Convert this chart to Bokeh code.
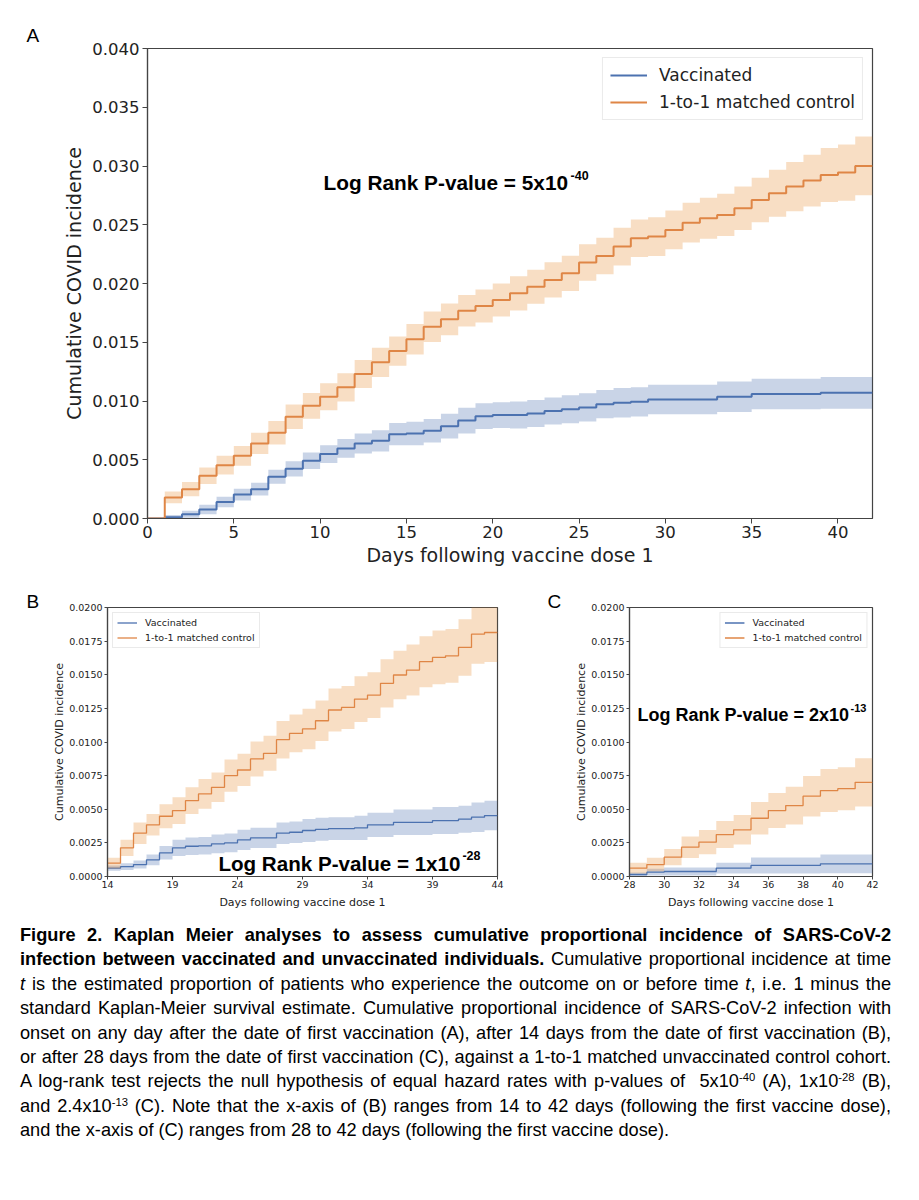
from bokeh.plotting import figure
from bokeh.models import Range1d, FixedTicker, NumeralTickFormatter, Label, Legend, LegendItem, Div
from bokeh.layouts import column, row
from bokeh.embed import file_html
from bokeh.resources import INLINE

BLUE = "#4C72B0"
BLUE_FILL = "#4C72B0"
ORANGE = "#DF8646"
ORANGE_FILL = "#E8923A"
TXT = "#222222"

# ---------------- Panel A: days 0-42 ----------------
a_days = list(range(0, 42))
a_end = 42
a_vacc = [0, 0.0001, 0.00037, 0.00077, 0.00141, 0.00204, 0.0025, 0.00355, 0.00423, 0.00491,
          0.00548, 0.00596, 0.00639, 0.00661, 0.00718, 0.00724, 0.00746, 0.00786, 0.00833, 0.00871,
          0.0088, 0.0088, 0.00894, 0.00914, 0.0093, 0.00945, 0.00973, 0.00985, 0.00993, 0.01013,
          0.01013, 0.01013, 0.01013, 0.01036, 0.01036, 0.01059, 0.01059, 0.01059, 0.01059, 0.0107,
          0.0107, 0.0107]
a_vacc_ci = [0, 0.0002, 0.0003, 0.0004, 0.00045, 0.0005, 0.00055, 0.0006, 0.00065, 0.0007,
             0.00075, 0.0008, 0.00085, 0.0009, 0.00095, 0.001, 0.001, 0.00105, 0.0011, 0.0011,
             0.0011, 0.00115, 0.00115, 0.00115, 0.0012, 0.0012, 0.0012, 0.00125, 0.00125, 0.00125,
             0.00125, 0.00125, 0.00125, 0.0013, 0.0013, 0.0013, 0.0013, 0.0013, 0.0013, 0.00135,
             0.00135, 0.00135]
a_ctrl = [0, 0.00179, 0.0025, 0.00363, 0.00454, 0.00533, 0.00639, 0.00729, 0.00866, 0.00959,
          0.01036, 0.01116, 0.0123, 0.01329, 0.01425, 0.01525, 0.01632, 0.01695, 0.01768, 0.01808,
          0.0186, 0.01916, 0.01973, 0.0203, 0.02087, 0.02178, 0.02234, 0.02314, 0.02385, 0.02399,
          0.02456, 0.02518, 0.02555, 0.02584, 0.02641, 0.02711, 0.02768, 0.02825, 0.02876, 0.02924,
          0.02944, 0.03001]
a_ctrl_ci = [0, 0.0005, 0.0006, 0.0007, 0.0008, 0.00085, 0.0009, 0.001, 0.00105, 0.0011,
             0.00115, 0.0012, 0.0012, 0.00125, 0.00125, 0.0013, 0.0013, 0.00135, 0.00135, 0.0014,
             0.0014, 0.00145, 0.00145, 0.0015, 0.0015, 0.00155, 0.00155, 0.0016, 0.0016, 0.00165,
             0.00165, 0.0017, 0.00175, 0.0018, 0.00185, 0.0019, 0.002, 0.0021, 0.0022, 0.0023,
             0.0024, 0.0025]
a_xticks = [0, 5, 10, 15, 20, 25, 30, 35, 40]
a_yticks = [0, 0.005, 0.01, 0.015, 0.02, 0.025, 0.03, 0.035, 0.04]

# ---------------- Panel B: days 14-44 ----------------
b_days = list(range(14, 44))
b_end = 44
b_vacc = [0.00062, 0.00074, 0.00089, 0.00124, 0.00176, 0.00213, 0.00225, 0.00228, 0.00243, 0.0025,
          0.00272, 0.00287, 0.00287, 0.00322, 0.00329, 0.00342, 0.00351, 0.00356, 0.00356, 0.00361,
          0.00384, 0.00384, 0.00403, 0.00403, 0.00403, 0.00416, 0.00416, 0.00426, 0.00441, 0.00453]
b_vacc_ci = [0.0002, 0.00025, 0.0003, 0.0004, 0.0005, 0.0006, 0.00065, 0.00065, 0.0007, 0.0007,
             0.00075, 0.00075, 0.00075, 0.0008, 0.0008, 0.00085, 0.00085, 0.00085, 0.00085, 0.0009,
             0.0009, 0.0009, 0.00095, 0.00095, 0.00095, 0.001, 0.001, 0.001, 0.0011, 0.0011]
b_ctrl = [0.00099, 0.00213, 0.00322, 0.00384, 0.00448, 0.0049, 0.00564, 0.00614, 0.00663, 0.0075,
          0.00792, 0.00874, 0.00916, 0.01017, 0.01064, 0.01097, 0.01158, 0.01238, 0.01257, 0.01319,
          0.01349, 0.01436, 0.01498, 0.01535, 0.01597, 0.01629, 0.01641, 0.01703, 0.01802, 0.01814]
b_ctrl_ci = [0.0004, 0.0006, 0.0008, 0.0008, 0.0009, 0.001, 0.001, 0.0011, 0.0011, 0.0012,
             0.0012, 0.0013, 0.0013, 0.0014, 0.0014, 0.0015, 0.0015, 0.0016, 0.0016, 0.0017,
             0.0017, 0.0018, 0.0018, 0.0019, 0.0019, 0.002, 0.002, 0.0021, 0.0022, 0.0022]
b_xticks = [14, 19, 24, 29, 34, 39, 44]
bc_yticks = [0, 0.0025, 0.005, 0.0075, 0.01, 0.0125, 0.015, 0.0175, 0.02]

# ---------------- Panel C: days 28-42 ----------------
c_days = list(range(28, 42))
c_end = 42
c_vacc = [0.00015, 0.00032, 0.00037, 0.00037, 0.00037, 0.00062, 0.00062, 0.00082, 0.00082, 0.00082,
          0.00082, 0.00094, 0.00094, 0.00094]
c_vacc_ci = [0.00015, 0.00025, 0.0003, 0.0003, 0.0003, 0.0004, 0.0004, 0.0006, 0.0006, 0.0006,
             0.0006, 0.0007, 0.0007, 0.0007]
c_ctrl = [0.00062, 0.00089, 0.00144, 0.00218, 0.00255, 0.00312, 0.00347, 0.00433, 0.0049, 0.00527,
          0.00597, 0.00639, 0.00653, 0.007]
c_ctrl_ci = [0.0004, 0.0005, 0.0006, 0.0008, 0.0009, 0.001, 0.0011, 0.0012, 0.0013, 0.0014,
             0.0015, 0.0016, 0.0016, 0.0018]
c_xticks = [28, 30, 32, 34, 36, 38, 40, 42]

series_labels = ["Vaccinated", "1-to-1 matched control"]
x_title = "Days following vaccine dose 1"
y_title = "Cumulative COVID incidence"


def km(p, days, end, vals, ci, color, fill, lw):
    x = list(days) + [end]
    y = list(vals) + [vals[-1]]
    h = list(ci) + [ci[-1]]
    lo = [max(0.0, v - e) for v, e in zip(y, h)]
    hi = [v + e for v, e in zip(y, h)]
    p.varea_step(x=x, y1=lo, y2=hi, step_mode="after", fill_color=fill, fill_alpha=0.3)
    return p.step(x=x, y=y, mode="after", line_color=color, line_width=lw)


def make_fig(fw, fh, ml, mr, mt, mb, xr, yr, xticks, yticks, yfmt,
             tick_fs, lab_fs, tick_len, xstand, ystand, xlabstand, ylabstand,
             letter, letter_offset, letter_standoff):
    p = figure(frame_width=fw, frame_height=fh, x_range=Range1d(*xr), y_range=Range1d(*yr),
               output_backend="svg", toolbar_location=None,
               min_border_left=ml, min_border_right=mr, min_border_top=mt, min_border_bottom=mb,
               title=letter)
    p.title.align = "left"
    p.title.offset = letter_offset
    p.title.standoff = letter_standoff
    p.title.vertical_align = "bottom"
    p.title.text_font = "Liberation Sans"
    p.title.text_font_style = "normal"
    p.title.text_font_size = "19px"
    p.title.text_color = "black"
    p.xgrid.visible = False
    p.ygrid.visible = False
    p.outline_line_color = "#444444"
    p.outline_line_width = 1.2
    p.background_fill_color = "white"
    p.border_fill_color = "white"
    p.xaxis.ticker = FixedTicker(ticks=xticks)
    p.yaxis.ticker = FixedTicker(ticks=yticks)
    p.yaxis.formatter = NumeralTickFormatter(format=yfmt)
    for ax in (p.xaxis, p.yaxis):
        ax.axis_line_color = "#444444"
        ax.axis_line_width = 1.2
        ax.major_tick_line_color = "#444444"
        ax.major_tick_in = 0
        ax.major_tick_out = tick_len
        ax.minor_tick_line_color = None
        ax.major_label_text_font = "DejaVu Sans"
        ax.major_label_text_font_size = tick_fs
        ax.major_label_text_color = TXT
        ax.axis_label_text_font = "DejaVu Sans"
        ax.axis_label_text_font_size = lab_fs
        ax.axis_label_text_font_style = "normal"
        ax.axis_label_text_color = TXT
    p.xaxis.major_label_standoff = xstand
    p.yaxis.major_label_standoff = ystand
    p.xaxis.axis_label_standoff = xlabstand
    p.yaxis.axis_label_standoff = ylabstand
    p.xaxis.axis_label = x_title
    p.yaxis.axis_label = y_title
    return p


def add_legend(p, rv, rc, loc, fs, gw, gh, standoff, spacing, padding, margin):
    lg = Legend(items=[LegendItem(label=series_labels[0], renderers=[rv]),
                       LegendItem(label=series_labels[1], renderers=[rc])],
                location=loc)
    lg.label_text_font = "DejaVu Sans"
    lg.label_text_font_size = fs
    lg.label_text_color = TXT
    lg.glyph_width = gw
    lg.glyph_height = gh
    lg.label_standoff = standoff
    lg.spacing = spacing
    lg.padding = padding
    lg.margin = margin
    lg.border_line_color = "#d6d6d6"
    lg.border_line_width = 1
    lg.background_fill_alpha = 0.85
    p.add_layout(lg)


def add_pvalue(p, x, y, main, sup, fs, sup_fs, sup_dx, sup_dy):
    p.add_layout(Label(x=x, y=y, text=main, text_font="Liberation Sans", text_font_style="bold",
                       text_font_size=fs, text_color="black", text_baseline="alphabetic"))
    p.add_layout(Label(x=x, y=y, text=sup, x_offset=sup_dx, y_offset=sup_dy,
                       text_font="Liberation Sans", text_font_style="bold",
                       text_font_size=sup_fs, text_color="black", text_baseline="alphabetic"))


# ---- Figure A ----
pa = make_fig(725, 470, 147, 39, 48, 64, (0, 42), (0, 0.04), a_xticks, a_yticks, "0.000",
              "16.5px", "19px", 5, 2, 3, 3, 4, "A", -121, 5)
rv = km(pa, a_days, a_end, a_vacc, a_vacc_ci, BLUE, BLUE_FILL, 2)
rc = km(pa, a_days, a_end, a_ctrl, a_ctrl_ci, ORANGE, ORANGE_FILL, 2)
add_legend(pa, rv, rc, "top_right", "17px", 37, 20, 12, 7, 7, 9)
add_pvalue(pa, 10.2, 0.0286, "Log Rank P-value = 5x10", "-40", "20.8px", "12.5px", 247, 6.5)

# ---- Figure B ----
pb = make_fig(390, 269, 107, 33, 25, 36, (14, 44), (0, 0.02), b_xticks, bc_yticks, "0.0000",
              "9.5px", "11px", 3, 1, 2, 5, 0, "B", -81, -8)
rv = km(pb, b_days, b_end, b_vacc, b_vacc_ci, BLUE, BLUE_FILL, 1.3)
rc = km(pb, b_days, b_end, b_ctrl, b_ctrl_ci, ORANGE, ORANGE_FILL, 1.3)
add_legend(pb, rv, rc, "top_left", "9.5px", 20, 11, 8, 4, 4, 5)
add_pvalue(pb, 22.53, 0.00093, "Log Rank P-value = 1x10", "-28", "20.6px", "12.5px", 244, 8)

# ---- Figure C ----
pc = make_fig(243, 269, 99, 39, 25, 36, (28, 42), (0, 0.02), c_xticks, bc_yticks, "0.0000",
              "9.5px", "11px", 3, 1, 2, 5, 0, "C", -82, -8)
rv = km(pc, c_days, c_end, c_vacc, c_vacc_ci, BLUE, BLUE_FILL, 1.3)
rc = km(pc, c_days, c_end, c_ctrl, c_ctrl_ci, ORANGE, ORANGE_FILL, 1.3)
add_legend(pc, rv, rc, "top_right", "9.5px", 20, 11, 8, 4, 4, 5)
add_pvalue(pc, 28.46, 0.0120, "Log Rank P-value = 2x10", "-13", "18px", "11px", 213, 7.5)

# ---- Caption ----
caption_lines = [
    "<b>Figure 2. Kaplan Meier analyses to assess cumulative proportional incidence of SARS-CoV-2</b>",
    "<b>infection between vaccinated and unvaccinated individuals.</b> Cumulative proportional incidence at time",
    "<i>t</i> is the estimated proportion of patients who experience the outcome on or before time <i>t</i>, i.e. 1 minus the",
    "standard Kaplan-Meier survival estimate. Cumulative proportional incidence of SARS-CoV-2 infection with",
    "onset on any day after the date of first vaccination (A), after 14 days from the date of first vaccination (B),",
    "or after 28 days from the date of first vaccination (C), against a 1-to-1 matched unvaccinated control cohort.",
    "A log-rank test rejects the null hypothesis of equal hazard rates with p-values of &nbsp;5x10<sup>-40</sup> (A), 1x10<sup>-28</sup> (B),",
    "and 2.4x10<sup>-13</sup> (C). Note that the x-axis of (B) ranges from 14 to 42 days (following the first vaccine dose),",
    "and the x-axis of (C) ranges from 28 to 42 days (following the first vaccine dose).",
]
sup_style = "font-size:0.62em;vertical-align:0.55em;line-height:0"
html_lines = []
for i, ln in enumerate(caption_lines):
    ln = ln.replace("<sup>", "<span style='%s'>" % sup_style).replace("</sup>", "</span>")
    last = i == len(caption_lines) - 1
    align = "text-align:left" if last else "text-align:justify;text-align-last:justify"
    html_lines.append("<div style='%s;height:24.4px;white-space:nowrap'>%s</div>" % (align, ln))
caption_html = ("<div style=\"width:871px;margin-left:15px;padding-top:6px;"
                "font-family:'Liberation Sans',Arial,sans-serif;font-size:18.2px;"
                "line-height:24.4px;color:#000\">" + "".join(html_lines) + "</div>")
cap = Div(text=caption_html, width=911, height=240)

layout = column(pa, row(pb, pc), cap)

open("out.html", "w").write(file_html(layout, INLINE))
